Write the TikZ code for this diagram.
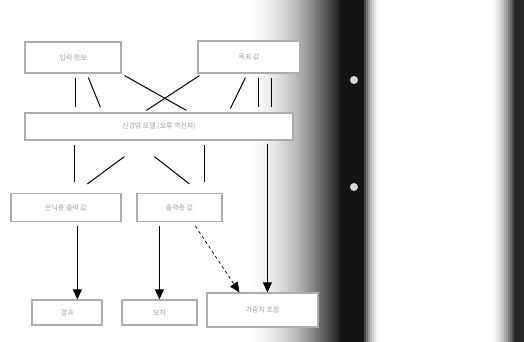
\documentclass[tikz,border=0pt]{standalone}
\usepackage{fontspec}
\newfontfamily\kr{Noto Sans CJK KR}
\usetikzlibrary{arrows.meta,calc}
\begin{document}
\begin{tikzpicture}[x=1pt,y=-1pt,
  box/.style={draw=gray!65,line width=1.2pt,fill=white,inner sep=0pt,font=\kr\fontsize{7}{8}\selectfont,text=gray!75},
  link/.style={line width=1pt,black},
  arr/.style={line width=1pt,black,-{Triangle[width=9pt,length=10pt]}}]
\useasboundingbox (0,0) rectangle (524,342);
\fill[white] (0,0) rectangle (524,342);
% gradient into dark band
\foreach \i in {1,...,50}{
  \pgfmathsetmacro{\xx}{240+2*\i}
  \pgfmathtruncatemacro{\dk}{92*(\i/50)*(\i/50)}
  \fill[black!\dk] (\xx,0) rectangle ({\xx+2.3},342);
}
\fill[black!92] (340,0) rectangle (362,342);
\foreach \i in {0,...,9}{
  \pgfmathsetmacro{\xx}{362+2*\i}
  \pgfmathtruncatemacro{\dk}{92*(1-\i/9)*(1-\i/9)}
  \fill[black!\dk] (\xx,0) rectangle ({\xx+2.3},342);
}
% right band
\foreach \i in {1,...,13}{
  \pgfmathsetmacro{\xx}{488+2*\i}
  \pgfmathtruncatemacro{\dk}{85*(\i/13)*(\i/13)}
  \fill[black!\dk] (\xx,0) rectangle ({\xx+2.3},342);
}
\fill[black!85] (515,0) rectangle (524,342);
% small light spots on band
\fill[gray!30] (354,80) circle (4);
\fill[gray!30] (354,187) circle (4);

% boxes
\node[box,minimum width=96pt,minimum height=31pt] (A) at (73,57.5) {입력 정보};
\node[box,minimum width=102pt,minimum height=32pt] (B) at (249,57) {목표 값};
\node[box,minimum width=268pt,minimum height=27pt] (C) at (159,126.5) {신경망 모델 (오류 역전파)};
\node[box,minimum width=110pt,minimum height=28pt] (D) at (66,207.5) {은닉층 출력 값};
\node[box,minimum width=85pt,minimum height=28pt] (E) at (179.5,207.5) {출력층 값};
\node[box,minimum width=70pt,minimum height=25pt] (F) at (67,312.5) {결과};
\node[box,minimum width=75pt,minimum height=25pt] (G) at (159.5,312.5) {오차};
\node[box,minimum width=111pt,minimum height=34pt] (H) at (262.5,310) {가중치 조정};

% A -> C
\draw[link] ($(A.south west)+(51,4)$) -- ($(C.north west)+(51,-5)$);
\draw[link] ($(A.south west)+(64,4)$) -- ($(C.north west)+(76,-5)$);
\draw[link] ($(A.south east)+(3,2)$) -- ($(C.north west)+(162,-2)$);
% B -> C
\draw[link] ($(B.south west)+(2,2)$) -- ($(C.north west)+(122,-2)$);
\draw[link] ($(B.south west)+(48,4)$) -- ($(C.north west)+(206,-4)$);
\draw[link] ($(B.south west)+(61,4)$) -- ($(C.north west)+(234,-5)$);
\draw[link] ($(B.south west)+(74,4)$) -- ($(C.north west)+(247,-5)$);
% C -> D, E
\draw[link] ($(C.south west)+(50,4)$) -- ($(D.north west)+(64,-11)$);
\draw[link] ($(D.north west)+(77,-9)$) -- ($(C.south west)+(100,16)$);
\draw[link] ($(C.south west)+(130,16)$) -- ($(E.north west)+(53,-9)$);
\draw[link] ($(C.south west)+(180,4)$) -- ($(E.north west)+(68,-11)$);
% arrows to bottom
\draw[arr] ($(D.south west)+(67,4)$) -- (F.north -| {$(D.south west)+(67,0)$});
\draw[arr] ($(E.south west)+(23,4)$) -- (G.north -| {$(E.south west)+(23,0)$});
\draw[arr,line width=0.7pt,dashed] ($(E.south west)+(59,4)$) -- ($(H.north west)+(33,0)$);
\draw[arr] ($(C.south west)+(243,3)$) -- (H.north -| {$(C.south west)+(243,0)$});
\end{tikzpicture}
\end{document}
